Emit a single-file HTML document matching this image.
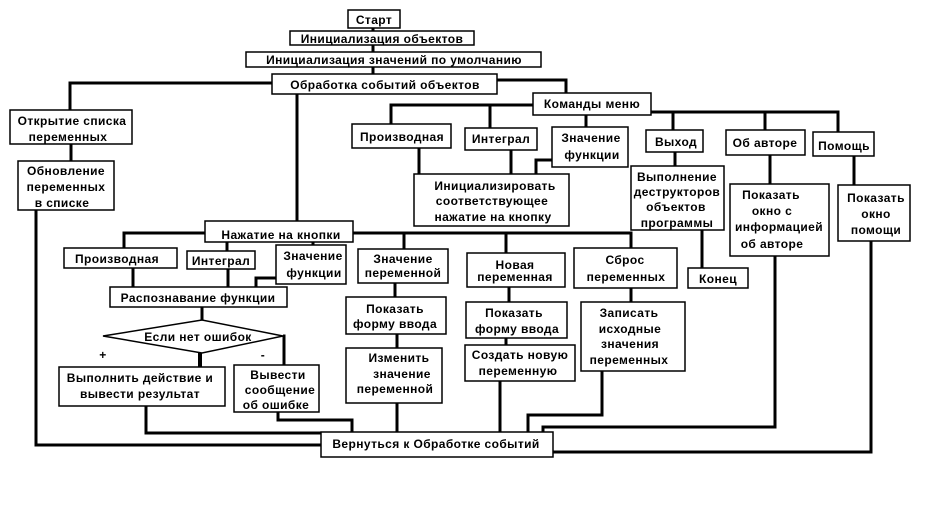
<!DOCTYPE html>
<html><head><meta charset="utf-8"><style>
html,body{margin:0;padding:0;background:#fff;}
svg{display:block}
text{font-family:"Liberation Sans","DejaVu Sans",sans-serif;font-weight:bold;font-size:12px;fill:#000;letter-spacing:0.4px}
</style></head><body>
<svg width="944" height="506" viewBox="0 0 944 506" xmlns="http://www.w3.org/2000/svg">
<g fill="none" stroke="#000" stroke-width="3">
<!-- top chain -->
<path d="M373 28V74"/>
<path d="M272 83H70V110"/>
<path d="M71 144V161"/>
<path d="M497 80H566V93"/>
<path d="M533 105H391V124"/>
<path d="M490 105V128"/>
<path d="M586 115V127"/>
<path d="M651 112H838V132"/>
<path d="M673 112V130"/>
<path d="M765 112V130"/>
<path d="M419 148V174"/>
<path d="M511 150V174"/>
<path d="M552 160H536V174"/>
<path d="M675 152V166"/>
<path d="M702 230V268"/>
<path d="M770 155V184"/>
<path d="M854 156V185"/>
<path d="M775 256V427H543V432"/>
<path d="M871 241V452H553"/>
<path d="M36 210V445H321"/>
<path d="M297 94V221"/>
<!-- Нажатие -->
<path d="M205 233H124V248"/>
<path d="M353 233H631V248"/>
<path d="M404 233V249"/>
<path d="M506 233V253"/>
<path d="M227 242V251"/>
<path d="M313 242V245"/>
<path d="M133 268V287"/>
<path d="M228 269V287"/>
<path d="M276 278H256V287"/>
<path d="M202 307V321"/>
<path d="M200 352V367" stroke-width="4"/>
<path d="M283 336H284V365"/>
<path d="M146 406V433H321"/>
<path d="M278 412V420H352V432"/>
<path d="M397 403V432"/>
<path d="M397 334V348"/>
<path d="M395 283V297"/>
<path d="M509 287V302"/>
<path d="M506 338V345"/>
<path d="M500 381V432"/>
<path d="M631 288V302"/>
<path d="M602 371V415H528V432"/>
</g>
<g fill="#fff" stroke="#000" stroke-width="1.5">
<rect x="348" y="10" width="52" height="18"/>
<rect x="290" y="31" width="184" height="14"/>
<rect x="246" y="52" width="295" height="15"/>
<rect x="272" y="74" width="225" height="20"/>
<rect x="533" y="93" width="118" height="22"/>
<rect x="10" y="110" width="122" height="34"/>
<rect x="18" y="161" width="96" height="49"/>
<rect x="352" y="124" width="99" height="24"/>
<rect x="465" y="128" width="72" height="22"/>
<rect x="552" y="127" width="76" height="40"/>
<rect x="414" y="174" width="155" height="52"/>
<rect x="646" y="130" width="57" height="22"/>
<rect x="631" y="166" width="93" height="64"/>
<rect x="726" y="130" width="79" height="25"/>
<rect x="813" y="132" width="61" height="24"/>
<rect x="730" y="184" width="99" height="72"/>
<rect x="838" y="185" width="72" height="56"/>
<rect x="688" y="268" width="60" height="20"/>
<rect x="205" y="221" width="148" height="21"/>
<rect x="64" y="248" width="113" height="20"/>
<rect x="187" y="251" width="68" height="18"/>
<rect x="276" y="245" width="70" height="39"/>
<rect x="110" y="287" width="177" height="20"/>
<polygon points="103,336 202,320 283,336 202,353"/>
<rect x="59" y="367" width="166" height="39"/>
<rect x="234" y="365" width="85" height="47"/>
<rect x="358" y="249" width="90" height="34"/>
<rect x="346" y="297" width="100" height="37"/>
<rect x="346" y="348" width="96" height="55"/>
<rect x="467" y="253" width="98" height="34"/>
<rect x="466" y="302" width="101" height="36"/>
<rect x="465" y="345" width="110" height="36"/>
<rect x="574" y="248" width="103" height="40"/>
<rect x="581" y="302" width="104" height="69"/>
<rect x="321" y="432" width="232" height="25"/>
</g>
<g text-anchor="middle">
<text x="374" y="24">Старт</text>
<text x="382" y="43">Инициализация объектов</text>
<text x="394" y="64">Инициализация значений по умолчанию</text>
<text x="385" y="89">Обработка событий объектов</text>
<text x="592" y="108">Команды меню</text>
<text x="72" y="125">Открытие списка</text>
<text x="68" y="141">переменных</text>
<text x="66" y="175">Обновление</text>
<text x="66" y="191">переменных</text>
<text x="62" y="207">в списке</text>
<text x="402" y="141">Производная</text>
<text x="501" y="143">Интеграл</text>
<text x="591" y="142">Значение</text>
<text x="592" y="159">функции</text>
<text x="495" y="190">Инициализировать</text>
<text x="492" y="205">соответствующее</text>
<text x="493" y="221">нажатие на кнопку</text>
<text x="676" y="146">Выход</text>
<text x="677" y="181">Выполнение</text>
<text x="677" y="196">деструкторов</text>
<text x="676" y="211">объектов</text>
<text x="677" y="227">программы</text>
<text x="765" y="147">Об авторе</text>
<text x="844" y="150">Помощь</text>
<text x="771" y="199">Показать</text>
<text x="772" y="215">окно с</text>
<text x="779" y="231">информацией</text>
<text x="772" y="248">об авторе</text>
<text x="876" y="202">Показать</text>
<text x="876" y="218">окно</text>
<text x="876" y="234">помощи</text>
<text x="718" y="283">Конец</text>
<text x="281" y="239">Нажатие на кнопки</text>
<text x="117" y="263">Производная</text>
<text x="221" y="265">Интеграл</text>
<text x="313" y="260">Значение</text>
<text x="314" y="277">функции</text>
<text x="198" y="302">Распознавание функции</text>
<text x="198" y="341">Если нет ошибок</text>
<text x="140" y="382">Выполнить действие и</text>
<text x="140" y="398">вывести результат</text>
<text x="278" y="379">Вывести</text>
<text x="280" y="394">сообщение</text>
<text x="276" y="409">об ошибке</text>
<text x="403" y="263">Значение</text>
<text x="403" y="277">переменной</text>
<text x="395" y="313">Показать</text>
<text x="395" y="328">форму ввода</text>
<text x="399" y="362">Изменить</text>
<text x="402" y="378">значение</text>
<text x="395" y="393">переменной</text>
<text x="515" y="269">Новая</text>
<text x="515" y="281">переменная</text>
<text x="514" y="317">Показать</text>
<text x="517" y="333">форму ввода</text>
<text x="520" y="359">Создать новую</text>
<text x="518" y="375">переменную</text>
<text x="625" y="264">Сброс</text>
<text x="626" y="281">переменных</text>
<text x="629" y="317">Записать</text>
<text x="630" y="333">исходные</text>
<text x="630" y="348">значения</text>
<text x="629" y="364">переменных</text>
<text x="436" y="448">Вернуться к Обработке событий</text>
<text x="103" y="359">+</text>
<text x="263" y="359">-</text>
</g>
</svg>
</body></html>
